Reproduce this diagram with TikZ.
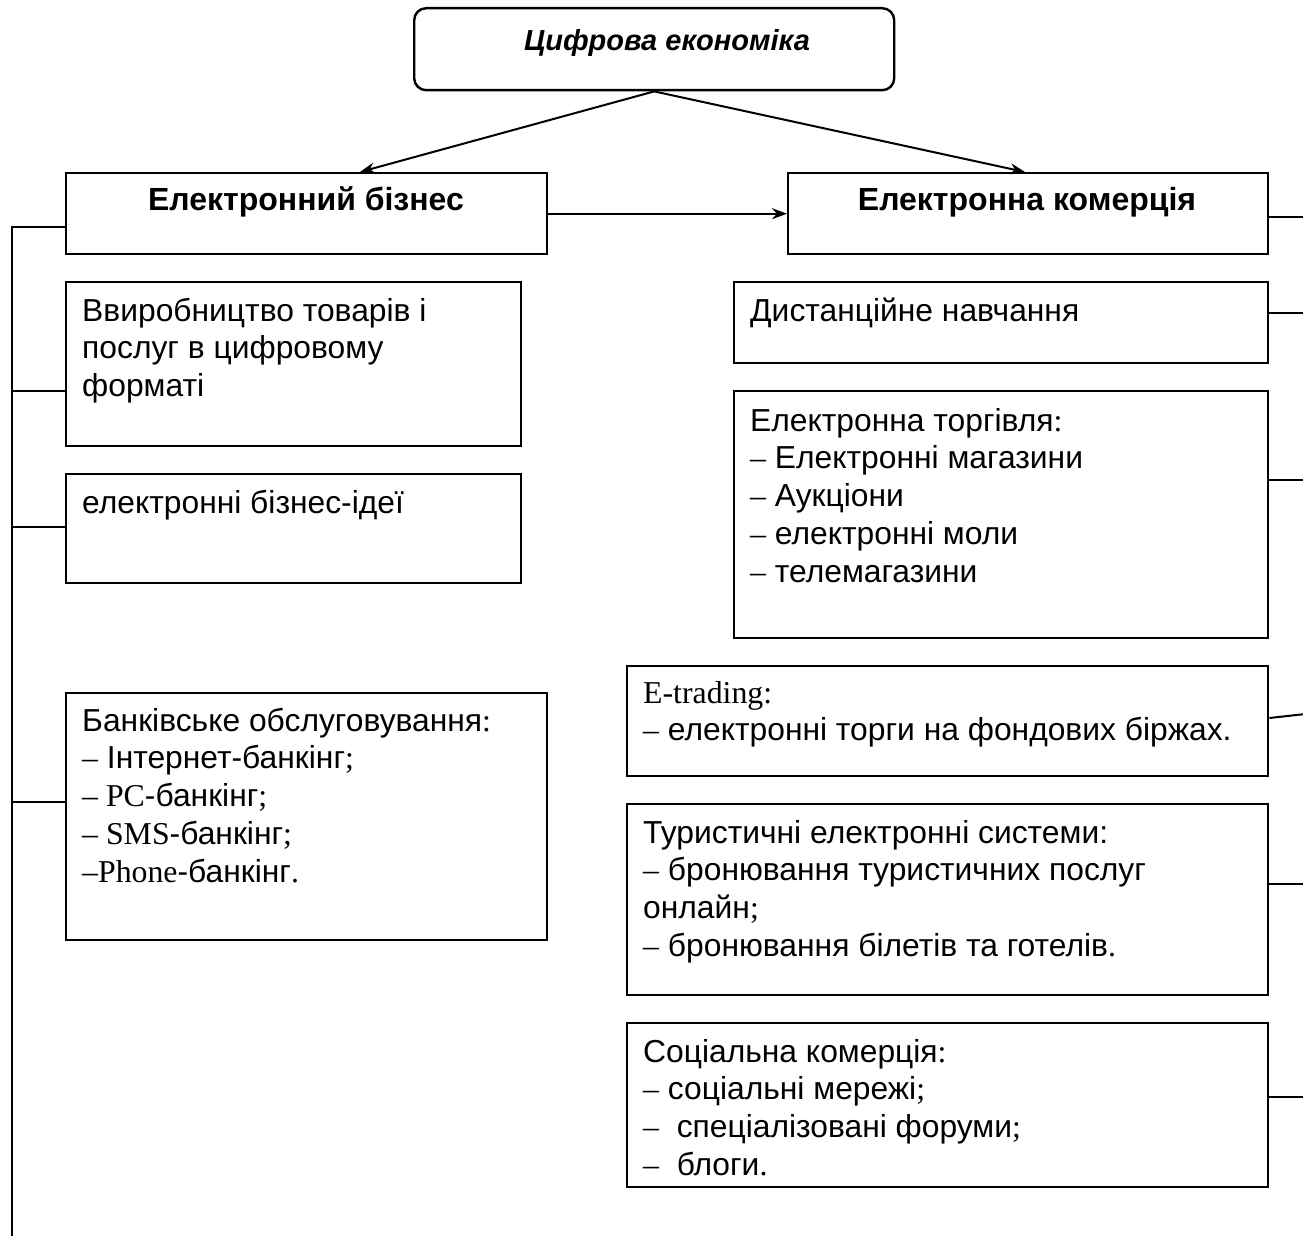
\documentclass[tikz,border=0pt]{standalone}
\usepackage{fontspec}
\setmainfont{Liberation Sans}
\newfontfamily\tnr{Liberation Serif}
\usetikzlibrary{arrows.meta}
\tikzset{
  box/.style={draw, line width=2.4pt, inner sep=0pt, anchor=north west},
  txt/.style={inner sep=0pt, anchor=base west},
  head/.style={inner sep=0pt, anchor=base, font=\fontsize{32}{38}\selectfont\bfseries},
  conn/.style={line width=2pt},
  arr/.style={line width=2pt, -{Stealth[length=15pt,width=11pt]}}
}
\newcommand{\tx}[1]{\parbox[t]{700pt}{\fontsize{31.8}{37.8}\selectfont #1}}
\begin{document}
\begin{tikzpicture}[x=1pt,y=-1pt]
\useasboundingbox (0,0) rectangle (1303,1236);
% boxes
\node[box, rounded corners=12pt, minimum width=480pt, minimum height=82pt] (top) at (413,7) {};
\node[box, minimum width=481pt, minimum height=81pt] (eb) at (65,172) {};
\node[box, minimum width=480pt, minimum height=81pt] (ek) at (787,172) {};
\node[box, minimum width=455pt, minimum height=164pt] (vyr) at (65,281) {};
\node[box, minimum width=455pt, minimum height=109pt] (ideas) at (65,473) {};
\node[box, minimum width=481pt, minimum height=247pt] (bank) at (65,692) {};
\node[box, minimum width=534pt, minimum height=81pt] (dist) at (733,281) {};
\node[box, minimum width=534pt, minimum height=247pt] (torg) at (733,390) {};
\node[box, minimum width=641pt, minimum height=110pt] (etr) at (626,665) {};
\node[box, minimum width=641pt, minimum height=191pt] (tur) at (626,803) {};
\node[box, minimum width=641pt, minimum height=164pt] (soc) at (626,1022) {};
% headings
\node[head, font=\fontsize{29}{35}\selectfont\bfseries\itshape] (toptxt) at (667,51) {Цифрова економіка};
\node[head] (ebtxt) at (306,210) {Електронний бізнес};
\node[head] (ektxt) at (1027,210) {Електронна комерція};
% texts
\node[txt] (vyrtxt) at (82,321) {\tx{Ввиробництво товарів і\\послуг в цифровому\\форматі}};
\node[txt] (ideastxt) at (82,513) {\tx{електронні бізнес-ідеї}};
\node[txt] (banktxt) at (82,731) {\tx{Банківське обслуговування{\tnr :}\\{\tnr –} Інтернет-банкінг{\tnr ;}\\{\tnr – PC}-банкінг{\tnr ;}\\{\tnr – SMS}-банкінг{\tnr ;}\\{\tnr –Phone}-банкінг{\tnr .}}};
\node[txt] (disttxt) at (750,321) {\tx{Дистанційне навчання}};
\node[txt] (torgtxt) at (750,431) {\tx{Електронна торгівля{\tnr :}\\{\tnr –} Електронні магазини\\{\tnr –} Аукціони\\{\tnr –} електронні моли\\{\tnr –} телемагазини}};
\node[txt] (etrtxt) at (643,703) {\tx{{\tnr E-trading:}\\{\tnr –} електронні торги на фондових біржах.}};
\node[txt] (turtxt) at (643,843) {\tx{Туристичні електронні системи:\\{\tnr –} бронювання туристичних послуг\\онлайн{\tnr ;}\\{\tnr –} бронювання білетів та готелів{\tnr .}}};
\node[txt] (soctxt) at (643,1062) {\tx{Соціальна комерція{\tnr :}\\{\tnr –} соціальні мережі{\tnr ;}\\{\tnr –}\ \ спеціалізовані форуми{\tnr ;}\\{\tnr –}\ \ блоги{\tnr .}}};
% arrows
\draw[arr] (top.south) -- (eb.north -| 360,0);
\draw[arr] (top.south) -- (ek.north -| 1025,0);
\draw[arr] (eb.east) -- (ek.west);
% left bus
\coordinate (ltop) at (12,227);
\coordinate (lbot) at (12,1236);
\draw[conn] (lbot) -- (ltop) -- (ltop -| eb.west);
\draw[conn] ([yshift=-110pt]vyr.north west) -- ++(-53pt,0);
\draw[conn] ([yshift=-54pt]ideas.north west) -- ++(-53pt,0);
\draw[conn] ([yshift=-110pt]bank.north west) -- ++(-53pt,0);
% right stubs
\draw[conn] ([yshift=-45pt]ek.north east) -- ++(36pt,0);
\draw[conn] ([yshift=-32pt]dist.north east) -- ++(36pt,0);
\draw[conn] ([yshift=-90pt]torg.north east) -- ++(36pt,0);
\draw[conn] ([yshift=-53pt]etr.north east) -- ++(36pt,4pt);
\draw[conn] ([yshift=-81pt]tur.north east) -- ++(36pt,0);
\draw[conn] ([yshift=-75pt]soc.north east) -- ++(36pt,0);
\end{tikzpicture}
\end{document}
